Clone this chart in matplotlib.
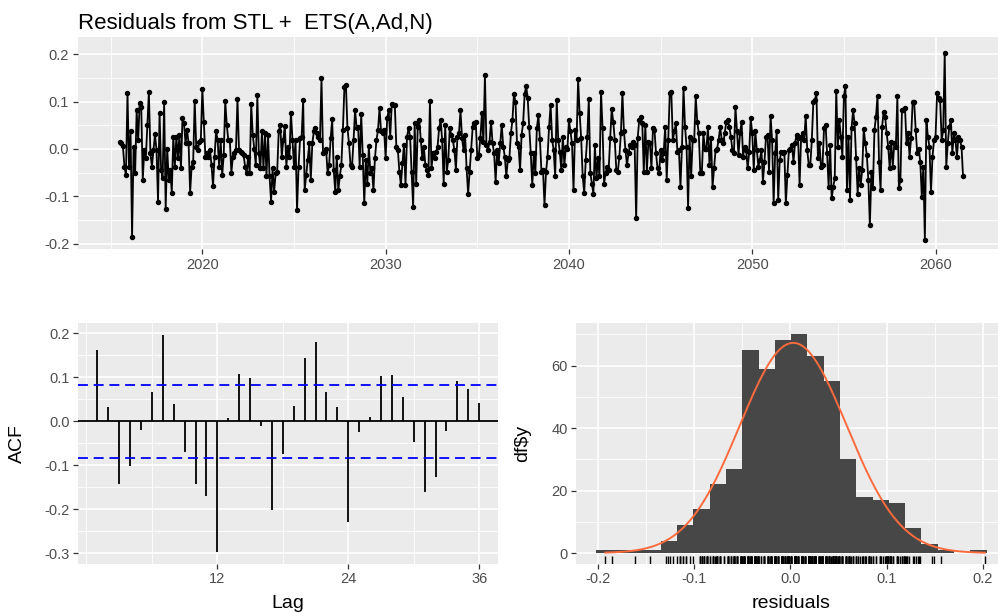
import numpy as np
import matplotlib
matplotlib.use("Agg")
import matplotlib.pyplot as plt

plt.rcParams['font.family'] = ['Liberation Sans', 'DejaVu Sans']

title = "Residuals from STL +  ETS(A,Ad,N)"

# monthly residual series, starts July 2015
start_year = 2015.5
freq = 12
residuals = [
    0.015, 0.012, 0.006, -0.037, -0.055, 0.119, -0.037, 0.037, -0.185, 0.005,
    -0.051, 0.082, 0.019, 0.098, 0.089, -0.065, -0.002, -0.020, 0.051, 0.120,
    -0.009, -0.037, -0.002, 0.031, -0.002, -0.111, 0.077, -0.044, -0.062, 0.099,
    -0.127, 0.001, -0.065, -0.044, -0.092, 0.026, -0.037, 0.026, -0.020, 0.030,
    -0.041, 0.065, 0.054, 0.012, 0.040, 0.012, -0.092, -0.037, -0.027, 0.101,
    0.005, -0.002, 0.015, 0.019, 0.127, 0.058, -0.016, -0.009, -0.016, -0.002,
    -0.034, -0.078, -0.016, 0.037, 0.019, -0.037, 0.019, -0.055, -0.013, 0.101,
    0.051, 0.019, 0.019, -0.050, -0.016, -0.009, -0.002, 0.105, -0.002, -0.006,
    -0.009, -0.013, -0.037, -0.051, -0.016,
    -0.051, 0.094, 0.030, 0.001, -0.034, 0.114, -0.009, -0.041, 0.037, -0.041,
    0.033, -0.058, 0.030, -0.058, -0.111, -0.041, -0.090, -0.051, -0.048, 0.037,
    0.051, -0.016, 0.019, 0.049, -0.037, 0.005, -0.016, 0.077, 0.019, -0.037,
    0.019, -0.129, -0.037, 0.023, 0.026, 0.103, -0.087, -0.055, -0.023, 0.012,
    -0.065, 0.012, 0.037, 0.044, 0.033, 0.026, 0.019, 0.149, -0.009, -0.006,
    0.001, -0.051, -0.034, 0.023, 0.063, -0.044, -0.090, -0.016, -0.087, -0.058,
    -0.034, 0.040, 0.130, 0.135, 0.044, 0.012, -0.034, -0.037, 0.019, 0.082,
    0.044, 0.047, -0.037, 0.074, -0.013, -0.115, -0.023, -0.073, 0.006, -0.051,
    -0.041, -0.087, -0.020, 0.019, 0.040, 0.086, 0.037, 0.033, 0.040, -0.020,
    0.065, 0.082,
    0.026, 0.096, 0.093, 0.093, 0.005, -0.002, -0.048, -0.076, -0.030, 0.008,
    -0.076, 0.026, 0.044, 0.026, -0.048, -0.122, 0.054, -0.073, 0.046, 0.061,
    0.019, -0.020, 0.005, -0.034, -0.044, -0.055, 0.101, -0.041, -0.009, -0.020,
    -0.006, 0.005, 0.044, 0.061, 0.019, -0.073, 0.051, -0.048, -0.023, 0.044,
    0.030, 0.019, -0.002, -0.044, 0.026, 0.033, 0.082, 0.023, -0.002, 0.030,
    -0.041, -0.094, -0.048, -0.002, 0.047, 0.054, 0.058, -0.020, -0.013, 0.023,
    0.075, 0.015, 0.156, 0.008, -0.002, 0.015, 0.058, 0.012, -0.009, -0.069,
    -0.002, -0.030, 0.012, 0.051, 0.005, -0.016, -0.058, -0.023, -0.020, 0.033,
    0.061, 0.116, 0.100, 0.012, 0.005, -0.044, 0.030, 0.054, 0.116, 0.133,
    0.107,
    0.046, -0.009, -0.077, -0.009, -0.051, 0.044, 0.072, 0.021, -0.048, -0.044,
    -0.118, -0.048, -0.016, 0.047, 0.093, 0.019, -0.002, -0.058, 0.103, 0.019,
    -0.006, -0.044, 0.026, -0.034, 0.005, 0.001, 0.061, 0.037, 0.012, -0.087,
    0.040, 0.019, 0.147, 0.075, 0.023, -0.058, -0.092, -0.023, 0.026, 0.105,
    -0.051, -0.073, -0.094, 0.008, -0.062, -0.020, -0.058, 0.121, 0.044, -0.073,
    -0.051, -0.037, -0.044, 0.023, 0.084, 0.058, 0.019, -0.044, -0.048, -0.016,
    0.033, 0.118, 0.037, -0.002, -0.034, -0.009, 0.008, 0.005, 0.015, 0.008,
    -0.146, 0.023, 0.061, 0.068, 0.054, -0.048, 0.051, -0.048, 0.015, 0.012,
    -0.041, 0.044, 0.040, -0.009, -0.041, -0.051, -0.002, -0.023, -0.009, 0.046,
    -0.065, 0.019, 0.118,
    0.121, 0.019, 0.037, 0.054, -0.006, -0.002, -0.080, 0.005, 0.128, 0.047,
    0.005, -0.125, 0.026, -0.058, 0.019, 0.019, 0.111, 0.058, 0.033, -0.051,
    -0.051, 0.033, 0.001, 0.001, 0.047, -0.034, 0.023, -0.080, -0.041, -0.002,
    0.001, 0.019, 0.047, 0.019, 0.012, 0.033, 0.058, 0.061, 0.047, 0.026,
    -0.002, -0.009, 0.089, 0.037, -0.013, 0.033, 0.058, -0.016, 0.005, -0.002,
    -0.041, -0.006, 0.065, 0.033, -0.044, 0.037, -0.002, -0.037, -0.023, -0.002,
    -0.069, -0.027, 0.026, 0.030, -0.048, 0.070, 0.019, -0.115, -0.009, 0.037,
    -0.108, -0.023, -0.006, -0.009, -0.006, -0.115, -0.055, -0.002, 0.001, 0.008,
    -0.027, 0.012, 0.030, 0.023, -0.076, 0.026, 0.033, 0.019, 0.070, -0.002,
    -0.034,
    -0.034, 0.019, 0.100, 0.103, 0.118, -0.020, 0.012, -0.037, -0.034, 0.044,
    0.051, -0.009, -0.080, 0.008, -0.104, -0.080, -0.062, 0.123, 0.005, 0.061,
    0.026, -0.016, 0.111, 0.134, -0.087, 0.026, -0.108, 0.044, 0.082, 0.054,
    -0.020, -0.094, -0.041, -0.076, -0.044, 0.042, 0.012, -0.013, -0.065, -0.161,
    -0.048, -0.083, 0.040, 0.068, 0.112, -0.027, -0.087, 0.047, 0.079, 0.068,
    0.033, 0.005, -0.041, 0.015, -0.037, 0.012, 0.005, 0.111, -0.083, -0.065,
    0.082, 0.082, 0.086, 0.012, 0.033, -0.016, 0.023, 0.100, 0.099, 0.040,
    -0.009, 0.001, -0.027, -0.101, -0.037, -0.192, 0.061, 0.026, 0.005, -0.090,
    -0.016, 0.019, 0.026, 0.118, 0.107, 0.103, 0.019, 0.040, 0.202, -0.037,
    0.012, 0.047, 0.061, -0.009, 0.033, 0.019, -0.016, 0.026, 0.019, 0.005,
    -0.058,
]

# ACF at lags 1..36
acf_values = [
    0.162, 0.032, -0.142, -0.101, -0.019, 0.066, 0.197, 0.040, -0.069, -0.143,
    -0.170, -0.298, 0.008, 0.108, 0.098, -0.011, -0.201, -0.075, 0.034, 0.144,
    0.181, 0.067, 0.033, -0.228, -0.024, 0.009, 0.102, 0.105, 0.056, -0.048,
    -0.161, -0.127, -0.021, 0.092, 0.074, 0.041,
]

# histogram counts (24 equal bins)
hist_counts = [1, 1, 1, 1, 4, 9, 14, 22, 27, 65, 59, 68,
               70, 63, 55, 30, 18, 17, 16, 8, 3, 1, 0, 1]
hist_lo, hist_hi = -0.2022, 0.2038
norm_mean, norm_sd = 0.003, 0.0555

n = len(residuals)
res = np.array(residuals)
t = start_year + np.arange(n) / freq
lags = np.arange(1, len(acf_values) + 1)
ci = 1.96 / np.sqrt(n)
edges = np.linspace(hist_lo, hist_hi, len(hist_counts) + 1)
bw = edges[1] - edges[0]

W, H = 998, 616
fig = plt.figure(figsize=(W / 100, H / 100), dpi=100)


def add_panel(x0, x1, y0, y1):
    # pixel box -> figure fraction
    return fig.add_axes([x0 / W, 1 - y1 / H, (x1 - x0) / W, (y1 - y0) / H])


def gg_style(ax, xmaj, xmin, ymaj, ymin):
    ax.set_facecolor('#EBEBEB')
    for s in ax.spines.values():
        s.set_visible(False)
    ax.set_xticks(xmaj)
    ax.set_xticks(xmin, minor=True)
    ax.set_yticks(ymaj)
    ax.set_yticks(ymin, minor=True)
    ax.grid(which='major', color='white', lw=1.2)
    ax.grid(which='minor', color='white', lw=0.6)
    ax.set_axisbelow(True)
    ax.tick_params(which='major', length=3.6, width=0.9, color='#333333',
                   labelcolor='#4D4D4D', labelsize=10.5, pad=2.5)
    ax.tick_params(which='minor', length=0)


# top: residual series
ax1 = add_panel(77.6, 1005.3, 37, 249.3)
ax1.plot(t, res, color='black', lw=1.3, marker='o', ms=2.9)
ax1.set_xlim(2013.195, 2063.805)
ax1.set_ylim(-0.2118, 0.2365)
gg_style(ax1, [2020, 2030, 2040, 2050, 2060], [2015, 2025, 2035, 2045, 2055],
         [-0.2, -0.1, 0.0, 0.1, 0.2], [-0.15, -0.05, 0.05, 0.15])
ax1.set_xticklabels(['2020', '2030', '2040', '2050', '2060'])
ax1.set_yticklabels(['-0.2', '-0.1', '0.0', '0.1', '0.2'])
fig.text(78 / W, 1 - 28.5 / H, title, fontsize=16, va='baseline', ha='left')

# bottom left: ACF
ax2 = add_panel(78.3, 498.3, 323.3, 564)
ax2.axhline(0, color='black', lw=1.3)
ax2.vlines(lags, 0, acf_values, color='black', lw=1.3)
for c in (ci, -ci):
    ax2.axhline(c, color='blue', lw=1.3, ls=(0, (5.5, 3.2)))
ax2.set_xlim(-0.75, 37.75)
ax2.set_ylim(-0.3243, 0.2227)
gg_style(ax2, [12, 24, 36], [0, 6, 18, 30],
         [-0.3, -0.2, -0.1, 0.0, 0.1, 0.2], [-0.25, -0.15, -0.05, 0.05, 0.15])
ax2.set_xticklabels(['12', '24', '36'])
ax2.set_yticklabels(['-0.3', '-0.2', '-0.1', '0.0', '0.1', '0.2'])
ax2.set_xlabel('Lag', fontsize=14)
ax2.set_ylabel('ACF', fontsize=14)
ax2.xaxis.set_label_coords(0.5, -0.13)
ax2.yaxis.set_label_coords(-0.125, 0.5)

# bottom right: histogram with normal curve and rug
ax3 = add_panel(576, 1006.2, 323.3, 564)
ax3.bar(edges[:-1], hist_counts, width=bw, align='edge', color='#474747', lw=0)
xs = np.linspace(res.min(), res.max(), 400)
ys = n * bw * np.exp(-0.5 * ((xs - norm_mean) / norm_sd) ** 2) / (norm_sd * np.sqrt(2 * np.pi))
ax3.plot(xs, ys, color='#FF6B3D', lw=1.4)
ax3.vlines(res, 0, 0.035, transform=ax3.get_xaxis_transform(), color='black', lw=1.0)
ax3.set_xlim(-0.2225, 0.2241)
ax3.set_ylim(-3.5, 73.5)
gg_style(ax3, [-0.2, -0.1, 0.0, 0.1, 0.2], [-0.15, -0.05, 0.05, 0.15],
         [0, 20, 40, 60], [10, 30, 50, 70])
ax3.set_xticklabels(['-0.2', '-0.1', '0.0', '0.1', '0.2'])
ax3.set_yticklabels(['0', '20', '40', '60'])
ax3.set_xlabel('residuals', fontsize=14)
ax3.set_ylabel(r'df\$y', fontsize=14)
ax3.xaxis.set_label_coords(0.5, -0.13)
ax3.yaxis.set_label_coords(-0.105, 0.5)

fig.savefig('out.png', dpi=100)
